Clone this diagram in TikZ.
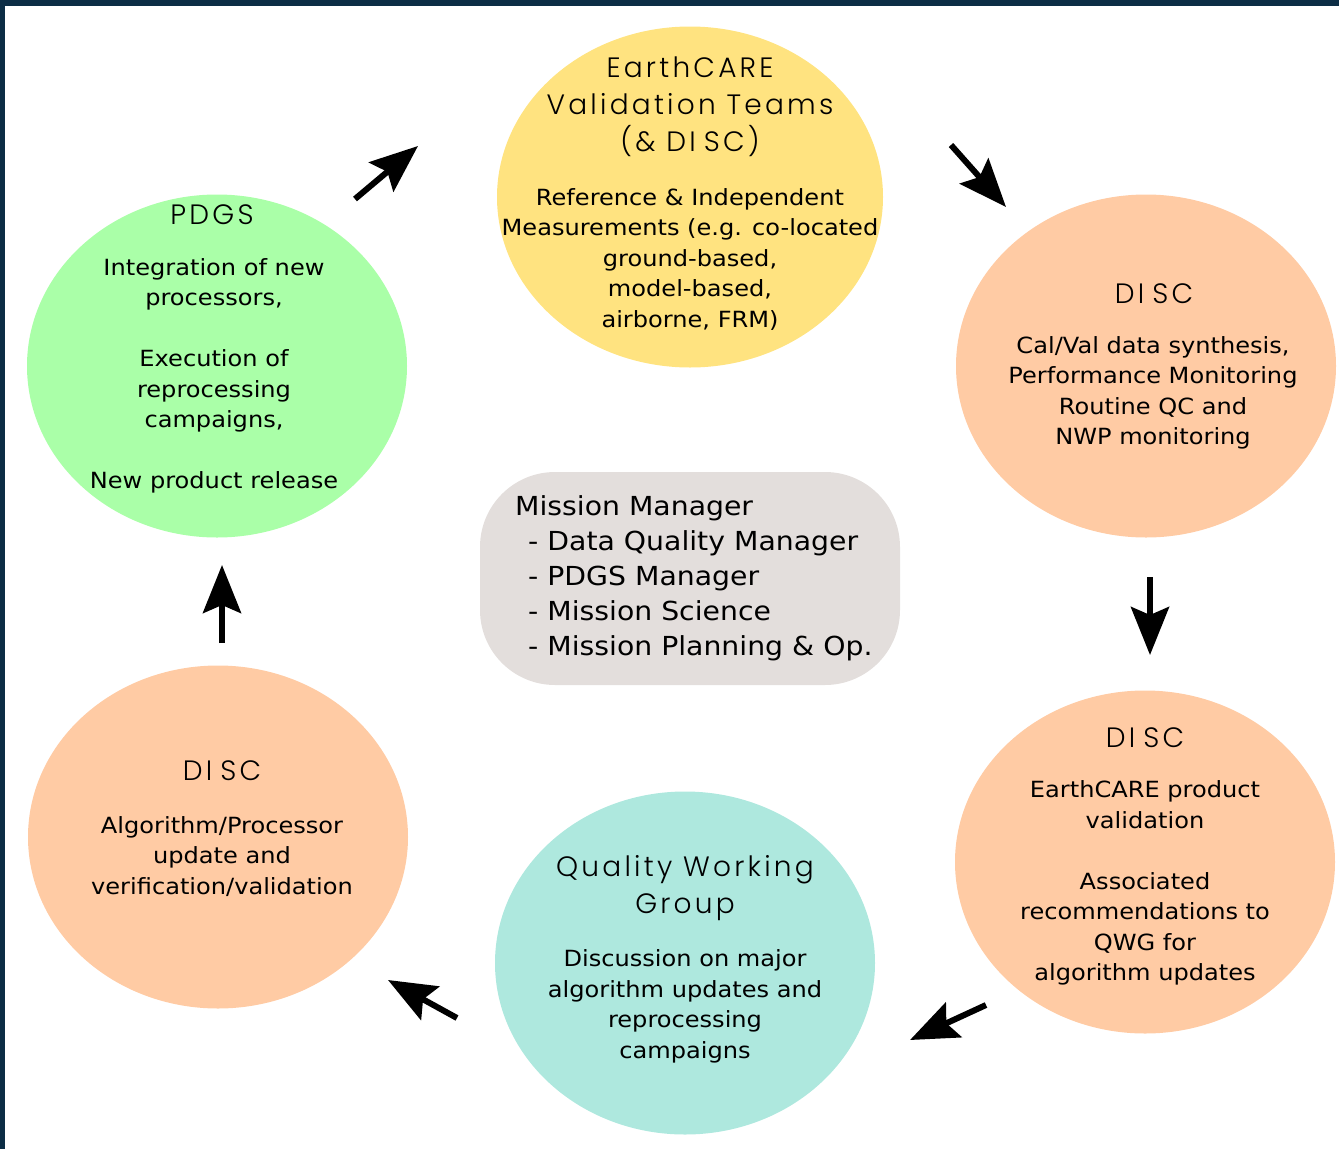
\documentclass[tikz,border=0pt]{standalone}
\usepackage{fontspec}
\setmainfont{DejaVu Sans}[FakeStretch=1.08]
\newfontfamily\headfont{Poppins Light}[LetterSpace=11.5, Ligatures=NoCommon]
\usetikzlibrary{shapes.geometric,arrows.meta}

\definecolor{navy}{HTML}{0C2D45}
\definecolor{sun}{HTML}{FFE380}
\definecolor{mint}{HTML}{AAFFA8}
\definecolor{peach}{HTML}{FFCBA4}
\definecolor{aqua}{HTML}{AEE8DE}
\definecolor{stone}{HTML}{E3DEDC}

\tikzset{
  bubble/.style={ellipse, draw=none, inner sep=0pt, minimum width=380pt, minimum height=343pt},
  head/.style={align=center, inner sep=0pt, font=\headfont\fontsize{28}{37}\selectfont, text=black},
  body/.style={align=center, inner sep=0pt, font=\fontsize{22.3}{30.5}\selectfont},
  flow/.style={line width=6pt, -{Stealth[length=48pt, width=38pt, inset=8pt]}}
}
\newcommand{\disc}{DI\kern8pt SC}

\begin{document}
\begin{tikzpicture}[x=1pt, y=-1pt]
  \useasboundingbox (0,0) rectangle (1339,1149);
  % frame edges
  \fill[navy] (0,0) rectangle (1339,5.5);
  \fill[navy] (0,0) rectangle (5,1149);

  % bubbles
  \node[bubble, fill=sun, minimum width=386pt, minimum height=341pt] (val) at (690,197) {};
  \node[bubble, fill=mint] (pdgs) at (217,366) {};
  \node[bubble, fill=peach] (disc1) at (1146,366) {};
  \node[bubble, fill=peach] (disc2) at (1145,862) {};
  \node[bubble, fill=aqua] (qwg) at (685,963) {};
  \node[bubble, fill=peach] (disc3) at (218,837) {};

  % central box
  \node[fill=stone, rounded corners=75pt, minimum width=420pt, minimum height=213pt, inner sep=0pt] (mm) at (690,578.5) {};

  % texts of the validation teams
  \node[head] (valh) at (690,107) {EarthCARE\\Validation Teams\\(\& \disc)};
  \node[body] (valb) at (690,259) {Reference \& Independent\\Measurements (e.g. co-located\\ground-based,\\model-based,\\airborne, FRM)};

  % PDGS
  \node[head] (pdgsh) at (212,215) {PDGS};
  \node[body] (pdgsb) at (214,376) {Integration of new\\processors,\\[30.5pt]Execution of\\reprocessing\\campaigns,\\[30.5pt]New product release};

  % DISC, data synthesis
  \node[head] (d1h) at (1154,294) {\disc};
  \node[body] (d1b) at (1153,393) {Cal/Val data synthesis,\\Performance Monitoring\\Routine QC and\\NWP monitoring};

  % DISC, product validation
  \node[head] (d2h) at (1145,738) {\disc};
  \node[body] (d2b) at (1145,883) {EarthCARE product\\validation\\[30.5pt]Associated\\recommendations to\\QWG for\\algorithm updates};

  % Quality Working Group
  \node[head] (qh) at (685,888.5) {Quality Working\\Group};
  \node[body] (qb) at (685,1006.5) {Discussion on major\\algorithm updates and\\reprocessing\\campaigns};

  % DISC, algorithm update
  \node[head] (d3h) at (222,771) {\disc};
  \node[body] (d3b) at (222,856.5) {Algorithm/Processor\\update and\\verification/validation};

  % mission management
  \node[align=left, anchor=west, inner sep=0pt, font=\fontsize{26.2}{35}\selectfont] (mmt) at (515,578)
    {Mission Manager\\\hspace*{13pt}- Data Quality Manager\\\hspace*{13pt}- PDGS Manager\\\hspace*{13pt}- Mission Science\\\hspace*{13pt}- Mission Planning \& Op.};

  % cycle arrows
  \coordinate (a1s) at (355,199); \coordinate (a1e) at (418,146);
  \coordinate (a2s) at (951,145); \coordinate (a2e) at (1006,207);
  \coordinate (a3s) at (1150,577); \coordinate (a3e) at (1150,655);
  \coordinate (a4s) at (986,1005); \coordinate (a4e) at (910,1040);
  \coordinate (a5s) at (457,1018); \coordinate (a5e) at (388,980);
  \coordinate (a6s) at (222,643); \coordinate (a6e) at (222,565);
  \draw[flow] (a1s) -- (a1e);
  \draw[flow] (a2s) -- (a2e);
  \draw[flow] (a3s) -- (a3e);
  \draw[flow] (a4s) -- (a4e);
  \draw[flow] (a5s) -- (a5e);
  \draw[flow] (a6s) -- (a6e);
\end{tikzpicture}
\end{document}
